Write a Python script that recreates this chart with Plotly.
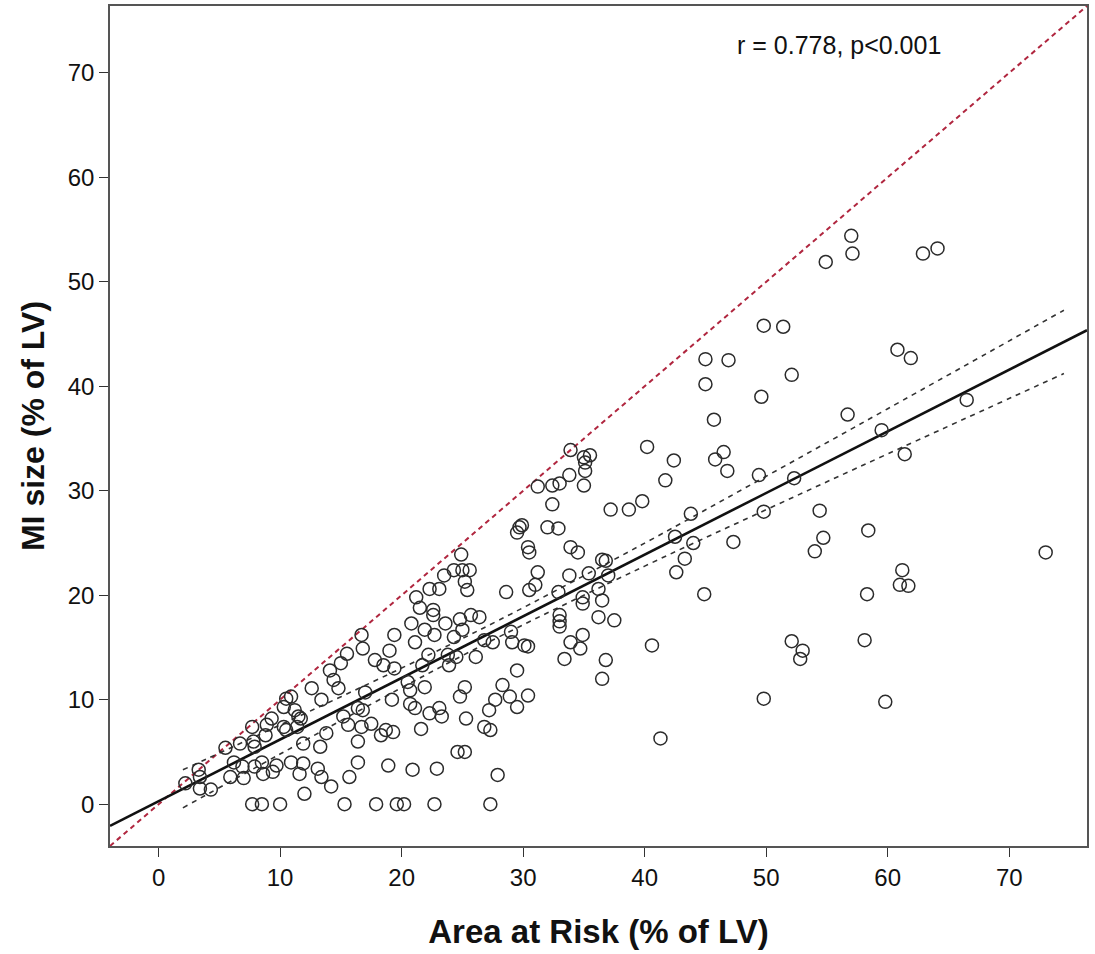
import plotly.graph_objects as go

# ---- data ----
area_at_risk = [
    2.2, 3.3, 3.4, 3.4, 4.3, 5.5, 6.2, 5.9, 6.7, 6.9, 7.0, 7.7, 7.8, 7.9, 7.7, 8.5, 8.8, 8.9, 7.9, 8.5,
    8.6, 9.3, 9.7, 9.4, 10.0, 10.3, 10.5, 10.9, 10.3, 10.5, 11.2, 11.5, 11.7, 11.4, 10.9, 11.6, 11.9, 12.0, 11.9, 12.6,
    13.4, 13.3, 13.1, 13.4, 13.8, 14.1, 14.4, 14.8, 14.2, 15.0,
    15.5, 16.7, 16.8, 17.0, 16.4, 16.8, 15.2, 15.6, 16.7, 17.5, 16.4, 16.4, 15.7, 15.3, 17.9, 17.8, 18.5, 19.0, 19.4, 19.4,
    20.8, 18.3, 18.7, 19.3, 18.9, 19.6, 20.2, 20.9, 19.2, 20.5, 20.7, 20.7, 21.1, 21.1, 21.9, 21.6, 22.2, 21.7, 22.3, 23.1,
    23.3, 22.9, 22.7, 22.6, 21.9, 22.7, 23.6, 24.8, 25.0, 25.7, 26.4, 23.8, 24.5, 23.9, 26.1, 24.3, 25.2, 24.8, 25.3, 26.8,
    27.3, 24.6, 25.2, 27.3, 27.9, 26.8, 27.5, 27.2, 27.7, 28.3, 28.9, 29.5, 30.4, 29.5, 29.1, 29.0, 30.1, 30.4,
    33.0, 33.0, 33.0, 33.9, 34.9, 34.7, 33.4, 36.2, 37.5, 36.8, 36.5, 40.6, 41.3,
    24.9, 24.3, 25.0, 25.6, 25.2, 25.4, 28.6, 30.5, 31.0, 31.2, 29.7, 29.9, 29.5, 30.4, 30.5, 32.0, 32.9, 31.2, 32.4, 33.0,
    33.8, 33.9, 35.0, 35.5, 35.1, 35.1, 35.0, 32.4, 33.9, 34.5, 33.8, 35.4, 32.9, 34.9, 34.9, 36.5, 36.2, 36.5, 36.8, 37.0,
    37.2, 38.7, 39.8, 40.2, 41.7, 42.4, 42.5, 42.6, 23.5, 22.3, 23.1, 21.2, 21.5, 22.6, 43.3, 44.0,
    57.0, 57.1, 54.9, 49.8, 51.4, 45.0, 46.9, 45.0, 52.1, 49.6, 45.7, 56.7, 46.5, 45.8, 46.8, 49.4, 52.3, 43.8, 49.8, 54.4,
    62.9, 64.1, 60.8, 61.9, 66.5, 59.5, 61.4, 47.3, 54.7, 54.0, 58.4, 61.2, 61.0, 61.7, 58.3, 44.9, 52.1, 53.0, 52.8, 58.1,
    49.8, 59.8, 73.0,
]
mi_size = [
    2.0, 3.3, 2.6, 1.5, 1.4, 5.4, 4.0, 2.6, 5.8, 3.6, 2.5, 7.4, 6.0, 5.5, 0.0, 0.0, 6.6, 7.6, 3.6, 4.0,
    2.9, 8.2, 3.7, 3.1, 0.0, 9.3, 10.1, 10.3, 7.4, 7.1, 9.0, 8.4, 8.2, 7.4, 4.0, 2.9, 3.9, 1.0, 5.8, 11.1,
    10.0, 5.5, 3.4, 2.6, 6.8, 12.8, 11.9, 11.1, 1.7, 13.5,
    14.4, 16.2, 14.9, 10.7, 9.2, 9.0, 8.4, 7.6, 7.4, 7.7, 6.0, 4.0, 2.6, 0.0, 0.0, 13.8, 13.3, 14.7, 16.2, 13.0,
    17.3, 6.6, 7.1, 6.9, 3.7, 0.0, 0.0, 3.3, 10.0, 11.7, 10.9, 9.6, 9.2, 15.5, 11.2, 7.2, 14.3, 13.3, 8.7, 9.2,
    8.4, 3.4, 0.0, 18.1, 16.7, 16.2, 17.3, 17.7, 16.7, 18.1, 17.9, 14.3, 14.1, 13.3, 14.1, 16.0, 11.2, 10.3, 8.2, 7.4,
    7.1, 5.0, 5.0, 0.0, 2.8, 15.7, 15.5, 9.0, 10.0, 11.4, 10.3, 9.3, 10.4, 12.8, 15.5, 16.5, 15.2, 15.1,
    18.1, 17.5, 17.0, 15.5, 16.2, 14.9, 13.9, 17.9, 17.6, 13.8, 12.0, 15.2, 6.3,
    23.9, 22.4, 22.4, 22.4, 21.3, 20.5, 20.3, 20.5, 21.0, 22.2, 26.5, 26.7, 26.0, 24.6, 24.1, 26.5, 26.4, 30.4, 30.5, 30.7,
    31.5, 33.9, 33.2, 33.4, 32.7, 31.9, 30.5, 28.7, 24.6, 24.1, 21.9, 22.1, 20.3, 19.8, 19.2, 19.5, 20.6, 23.4, 23.3, 21.9,
    28.2, 28.2, 29.0, 34.2, 31.0, 32.9, 25.6, 22.2, 21.9, 20.6, 20.6, 19.8, 18.8, 18.6, 23.5, 25.0,
    54.4, 52.7, 51.9, 45.8, 45.7, 42.6, 42.5, 40.2, 41.1, 39.0, 36.8, 37.3, 33.7, 33.0, 31.9, 31.5, 31.2, 27.8, 28.0, 28.1,
    52.7, 53.2, 43.5, 42.7, 38.7, 35.8, 33.5, 25.1, 25.5, 24.2, 26.2, 22.4, 21.0, 20.9, 20.1, 20.1, 15.6, 14.7, 13.9, 15.7,
    10.1, 9.8, 24.1,
]

# regression line: intercept, slope
fit_intercept = 0.29
fit_slope = 0.59

# 95% confidence band of the fit, read at several x positions
ci_x = [2.0, 10, 20, 28, 40, 50, 60, 74.5]
ci_upper = [3.29, 7.58, 13.03, 17.61, 24.99, 31.39, 37.85, 47.28]
ci_lower = [-0.35, 4.80, 11.15, 16.01, 22.79, 28.19, 33.53, 41.22]

axis_range = [-4.0, 76.4]
tick_values = [0, 10, 20, 30, 40, 50, 60, 70]
annotation_text = "r = 0.778, p<0.001"
x_title = "Area at Risk (% of LV)"
y_title = "MI size (% of LV)"

FONT = "Liberation Sans, Arial, sans-serif"

fig = go.Figure()

# identity line (red dashed)
fig.add_trace(go.Scatter(
    x=axis_range, y=axis_range, mode="lines",
    line=dict(color="#B0263F", width=2, dash="5px,4px"),
    hoverinfo="skip", showlegend=False))

# confidence band lines
for band in (ci_upper, ci_lower):
    fig.add_trace(go.Scatter(
        x=ci_x, y=band, mode="lines",
        line=dict(color="#333333", width=1.6, dash="5px,5px", shape="spline", smoothing=1.0),
        hoverinfo="skip", showlegend=False))

# regression line across the whole axis
fit_x = axis_range
fit_y = [fit_intercept + fit_slope * v for v in fit_x]
fig.add_trace(go.Scatter(
    x=fit_x, y=fit_y, mode="lines",
    line=dict(color="#111111", width=2.6),
    hoverinfo="skip", showlegend=False))

# data points
fig.add_trace(go.Scatter(
    x=area_at_risk, y=mi_size, mode="markers",
    marker=dict(symbol="circle-open", size=13, color="#2b2b2b", line=dict(width=1.5, color="#2b2b2b")),
    showlegend=False))

axis_common = dict(
    range=axis_range, tickvals=tick_values, ticks="outside", ticklen=9, tickwidth=1.3,
    tickcolor="#333333", showgrid=False, zeroline=False, showline=True, linecolor="#555555",
    linewidth=1.5, mirror=True, automargin=False,
    tickfont=dict(family=FONT, size=24, color="#111111"),
)

fig.update_layout(
    width=1095, height=954,
    margin=dict(l=110, r=8, t=6, b=108),
    paper_bgcolor="white", plot_bgcolor="white",
    xaxis=dict(**axis_common,
               title=dict(text="<b>" + x_title + "</b>",
                          font=dict(family=FONT, size=33, color="#111111"), standoff=30)),
    yaxis=dict(**axis_common,
               title=dict(text="<b>" + y_title + "</b>",
                          font=dict(family=FONT, size=32, color="#111111"), standoff=14)),
    annotations=[dict(
        text=annotation_text, xref="paper", yref="paper", x=0.640, y=0.953,
        xanchor="left", yanchor="middle", showarrow=False,
        font=dict(family=FONT, size=25, color="#111111"))],
)

fig.write_html("out.html", config={"displayModeBar": False},
               post_script="document.body.style.margin='0';")
